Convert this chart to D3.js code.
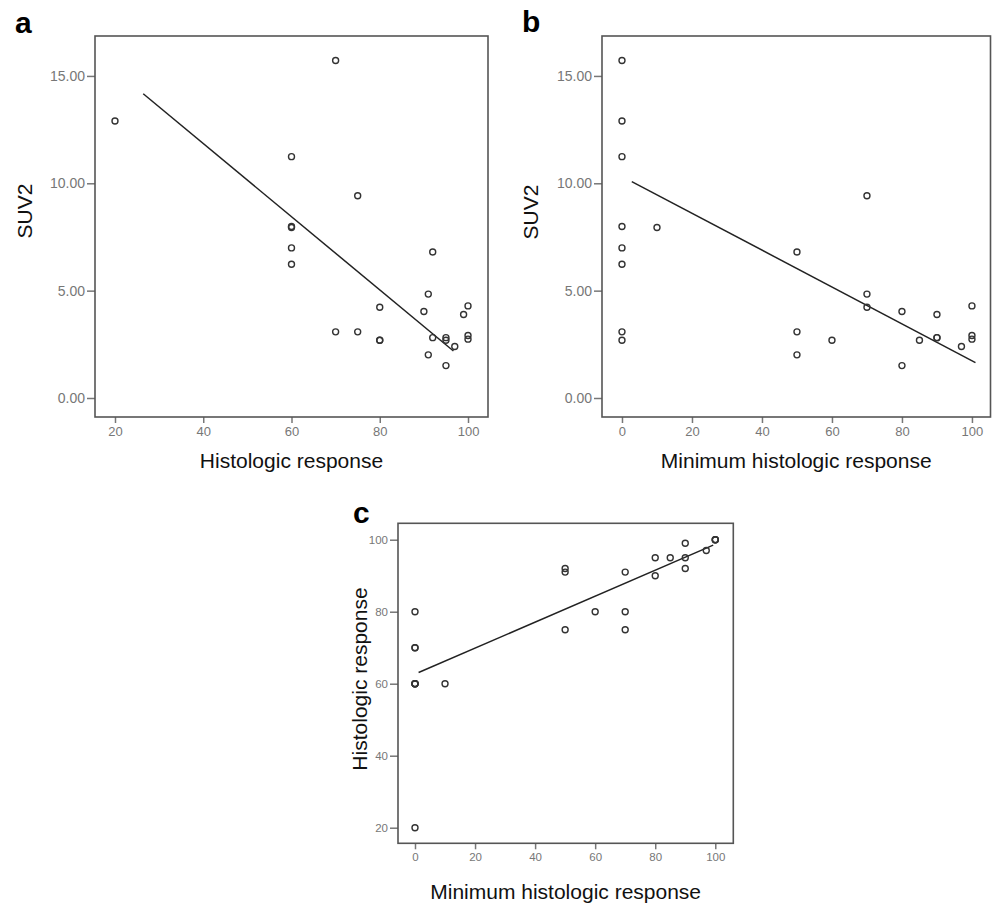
<!DOCTYPE html>
<html>
<head>
<meta charset="utf-8">
<script src="https://cdn.jsdelivr.net/npm/d3@7"></script>
<style>
  html, body { margin: 0; padding: 0; background: #fff; }
  svg { display: block; font-family: "Liberation Sans", Arial, sans-serif; }
  .tick text { fill: #777; }
  .tick line { stroke: #777; stroke-width: 1.5; }
</style>
</head>
<body>
<svg id="chart" width="992" height="906"></svg>
<script>
// ---- data (one row per patient) --------------------------------------------
const minHisto = [0, 0, 0, 0, 10, 0, 0, 0, 50, 0, 60, 85, 90, 90, 90, 50, 70, 70, 80, 70, 100, 100, 100, 97, 50, 80];
const histo    = [20, 70, 60, 60, 60, 60, 60, 70, 75, 80, 80, 95, 92, 95, 99, 92, 91, 80, 90, 75, 100, 100, 100, 97, 91, 95];
const suv2     = [12.9, 15.72, 11.24, 7.99, 7.94, 6.99, 6.23, 3.08, 3.08, 2.69, 2.69, 2.69, 2.81, 2.81, 3.89,
                  6.80, 4.84, 4.23, 4.03, 9.42, 4.29, 2.91, 2.74, 2.40, 2.01, 1.51];

// fit lines: [start, end] as drawn
const fitA = [[26.4, 14.17], [96.7, 2.19]];
const fitB = [[2.8, 10.08], [101, 1.65]];
const fitC = [[1.2, 63.1], [99.3, 98.5]];

// ticks
const suvTicks   = [0, 5, 10, 15];
const histTicksA = [20, 40, 60, 80, 100];
const pctTicks   = [0, 20, 40, 60, 80, 100];
const histTicksC = [20, 40, 60, 80, 100];

// ---- drawing -------------------------------------------------------------
const svg = d3.select('#chart');

function panel(o){
  const {box, xDom, yDom, xs, ys, fit, tickX, tickY, yFmt, xLabel, yLabel, letter, fs} = o;
  const g = svg.append('g');
  const x = d3.scaleLinear().domain(xDom).range([box.l, box.r]);
  const y = d3.scaleLinear().domain(yDom).range([box.b, box.t]);

  g.append('g')
    .attr('transform', `translate(0,${box.b})`)
    .call(d3.axisBottom(x).tickValues(tickX).tickSize(6).tickPadding(4).tickFormat(d3.format('d')))
    .call(a => a.select('.domain').remove())
    .selectAll('text').attr('font-size', fs.x);

  g.append('g')
    .attr('transform', `translate(${box.l},0)`)
    .call(d3.axisLeft(y).tickValues(tickY).tickSize(8).tickPadding(2).tickFormat(yFmt))
    .call(a => a.select('.domain').remove())
    .selectAll('text').attr('font-size', fs.y);

  g.append('rect')
    .attr('x', box.l).attr('y', box.t)
    .attr('width', box.r - box.l).attr('height', box.b - box.t)
    .attr('fill', 'none').attr('stroke', '#555').attr('stroke-width', 1.6);

  g.append('line')
    .attr('x1', x(fit[0][0])).attr('y1', y(fit[0][1]))
    .attr('x2', x(fit[1][0])).attr('y2', y(fit[1][1]))
    .attr('stroke', '#222').attr('stroke-width', 1.5);

  g.selectAll('circle').data(d3.range(xs.length)).join('circle')
    .attr('cx', i => x(xs[i])).attr('cy', i => y(ys[i]))
    .attr('r', 3).attr('fill', 'none')
    .attr('stroke', '#333').attr('stroke-width', 1.4);

  g.append('text')
    .attr('x', (box.l + box.r) / 2).attr('y', xLabel.y)
    .attr('text-anchor', 'middle').attr('font-size', 21).attr('fill', '#111')
    .text(xLabel.t);

  g.append('text')
    .attr('transform', `translate(${yLabel.x},${yLabel.y}) rotate(-90)`)
    .attr('text-anchor', 'middle').attr('font-size', 21).attr('fill', '#111')
    .text(yLabel.t);

  g.append('text')
    .attr('x', letter.x).attr('y', letter.y)
    .attr('font-size', 30).attr('font-weight', 'bold').attr('fill', '#000')
    .text(letter.t);
}

const fmt2 = d3.format('.2f');

panel({
  box: {l: 95, t: 36, r: 488, b: 417},
  xDom: [15.47, 104.53], yDom: [-0.885, 16.86],
  xs: histo, ys: suv2, fit: fitA,
  tickX: histTicksA, tickY: suvTicks, yFmt: fmt2,
  xLabel: {t: 'Histologic response', y: 468},
  yLabel: {t: 'SUV2', x: 32, y: 211},
  letter: {t: 'a', x: 15, y: 33},
  fs: {x: 13, y: 14}
});

panel({
  box: {l: 602, t: 36, r: 990.5, b: 417},
  xDom: [-5.71, 105.3], yDom: [-0.885, 16.86],
  xs: minHisto, ys: suv2, fit: fitB,
  tickX: pctTicks, tickY: suvTicks, yFmt: fmt2,
  xLabel: {t: 'Minimum histologic response', y: 468},
  yLabel: {t: 'SUV2', x: 538, y: 212},
  letter: {t: 'b', x: 522, y: 32},
  fs: {x: 13, y: 14}
});

panel({
  box: {l: 398, t: 523.3, r: 733.3, b: 843.3},
  xDom: [-5.66, 106], yDom: [15.67, 104.56],
  xs: minHisto, ys: histo, fit: fitC,
  tickX: pctTicks, tickY: histTicksC, yFmt: d3.format('d'),
  xLabel: {t: 'Minimum histologic response', y: 899},
  yLabel: {t: 'Histologic response', x: 367, y: 679},
  letter: {t: 'c', x: 353, y: 523},
  fs: {x: 11.5, y: 11.5}
});
</script>
</body>
</html>
